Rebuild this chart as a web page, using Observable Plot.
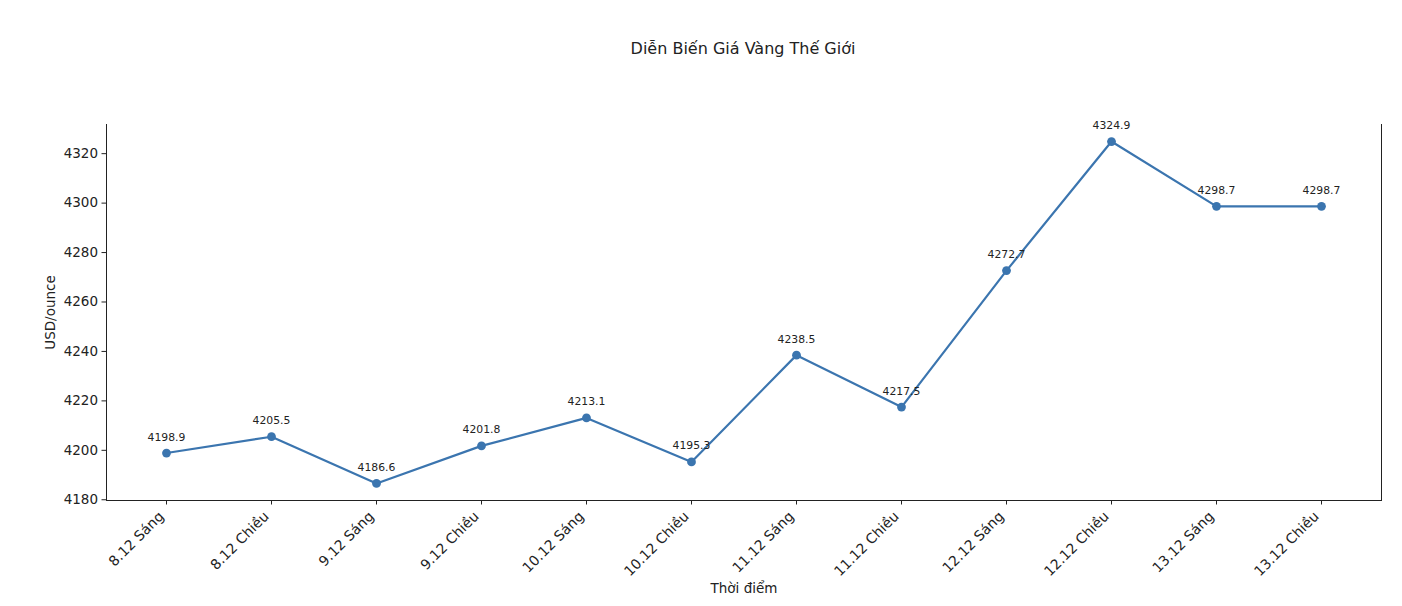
<!DOCTYPE html>
<html>
<head>
<meta charset="utf-8">
<script src="https://cdn.jsdelivr.net/npm/d3@7"></script>
<script src="https://cdn.jsdelivr.net/npm/@observablehq/plot@0.6"></script>
<style>
  html, body { margin: 0; padding: 0; background: #fff; }
  body { width: 1402px; height: 606px; overflow: hidden; font-family: "DejaVu Sans", sans-serif; }
  #title { position: relative; height: 100px; }
  #title span { position: absolute; left: 743px; top: 48px; transform: translate(-50%, -50%); font-size: 16px; color: #222; white-space: nowrap; }
  svg { display: block; }
</style>
</head>
<body>
<div id="title"><span>Diễn Biến Giá Vàng Thế Giới</span></div>
<div id="chart"></div>
<script>
const labels = ["8.12 Sáng","8.12 Chiều","9.12 Sáng","9.12 Chiều","10.12 Sáng","10.12 Chiều","11.12 Sáng","11.12 Chiều","12.12 Sáng","12.12 Chiều","13.12 Sáng","13.12 Chiều"];
const prices = [4198.9, 4205.5, 4186.6, 4201.8, 4213.1, 4195.3, 4238.5, 4217.5, 4272.7, 4324.9, 4298.7, 4298.7];
const yTicks = [4180, 4200, 4220, 4240, 4260, 4280, 4300, 4320];

const data = labels.map((t, i) => ({t, v: prices[i]}));
const color = "#3b75af";
const yMin = 4179.7, yMax = 4331.8;

const chart = Plot.plot({
  width: 1402,
  height: 506,
  marginTop: 24,
  marginBottom: 106,
  marginLeft: 106,
  marginRight: 21,
  style: {fontFamily: "DejaVu Sans, sans-serif", fontSize: "13.5px", color: "#222", background: "#fff"},
  x: {type: "point", domain: labels, padding: 0.55, label: null},
  y: {domain: [yMin, yMax], label: null},
  marks: [
    Plot.frame({anchor: "left", stroke: "#222", strokeWidth: 1}),
    Plot.frame({anchor: "right", stroke: "#222", strokeWidth: 1}),
    Plot.frame({anchor: "bottom", stroke: "#222", strokeWidth: 1}),
    Plot.axisY({ticks: yTicks, tickSize: 4.5, tickPadding: 4, fontSize: 13.5, tickFormat: d => String(d), label: null}),
    Plot.axisX({tickSize: 4.5, tickFormat: () => "", label: null}),
    Plot.axisX({tickSize: 0, tickPadding: 13.5, tickRotate: -45, fontSize: 14, dx: -5, label: null}),
    Plot.text(["USD/ounce"], {frameAnchor: "left", dx: -56, rotate: -90, textAnchor: "middle", fontSize: 13.5, fill: "#222"}),
    Plot.text(["Thời điểm"], {frameAnchor: "bottom", dy: 92, fontSize: 13.5, fill: "#222"}),
    Plot.line(data, {x: "t", y: "v", stroke: color, strokeWidth: 2.2}),
    Plot.dot(data, {x: "t", y: "v", r: 4.4, fill: color, stroke: "none"}),
    Plot.text(data, {x: "t", y: "v", text: d => d.v.toFixed(1), dy: -16, fontSize: 10.8, fill: "#222"})
  ]
});
document.getElementById("chart").appendChild(chart);
</script>
</body>
</html>
